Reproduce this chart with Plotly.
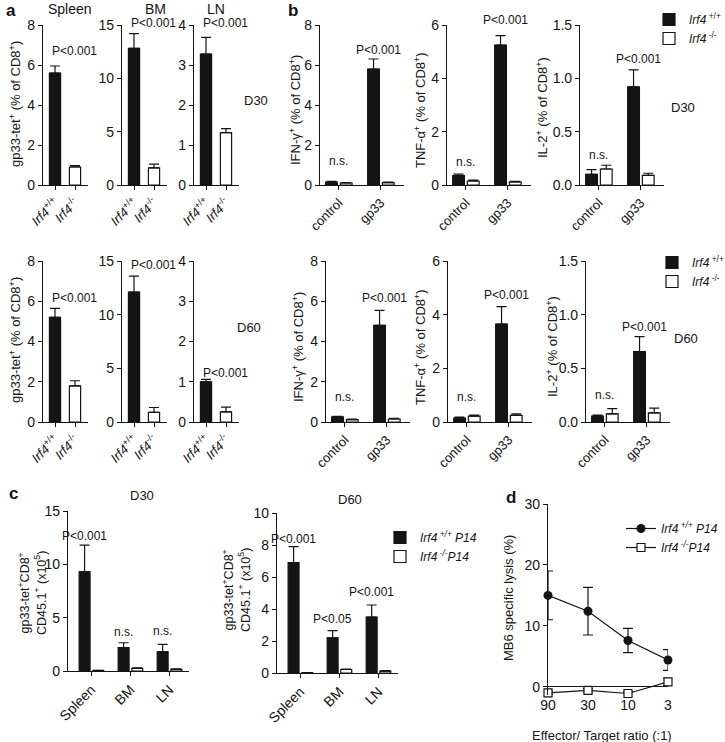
import plotly.graph_objects as go

W, H = 725, 742
FONT = "Liberation Sans, Arial, Helvetica, sans-serif"
INK = "#141414"

# ---------------- data ----------------
genotypes = ["<i>Irf4</i><sup>+/+</sup>", "<i>Irf4</i><sup>-/-</sup>"]
tissues = ["Spleen", "BM", "LN"]
stimuli = ["control", "gp33"]
ratios = ["90", "30", "10", "3"]

# panel a : gp33-tet+ (% of CD8+), values for [Irf4+/+, Irf4-/-]
a30_spleen = [5.6, 0.9]
a30_spleen_err = [0.35, 0.07]
a30_bm = [12.8, 1.6]
a30_bm_err = [1.4, 0.35]
a30_ln = [3.27, 1.31]
a30_ln_err = [0.42, 0.1]
a60_spleen = [5.2, 1.8]
a60_spleen_err = [0.45, 0.25]
a60_bm = [12.1, 0.9]
a60_bm_err = [1.5, 0.45]
a60_ln = [1.0, 0.25]
a60_ln_err = [0.06, 0.12]

# panel b : cytokine+ (% of CD8+), values for [control, gp33]
b30_ifn_wt = [0.15, 5.8]
b30_ifn_wt_err = [0.03, 0.5]
b30_ifn_ko = [0.1, 0.12]
b30_ifn_ko_err = [0.02, 0.02]
b30_tnf_wt = [0.35, 5.25]
b30_tnf_wt_err = [0.06, 0.35]
b30_tnf_ko = [0.15, 0.12]
b30_tnf_ko_err = [0.03, 0.02]
b30_il2_wt = [0.10, 0.92]
b30_il2_wt_err = [0.045, 0.16]
b30_il2_ko = [0.15, 0.09]
b30_il2_ko_err = [0.035, 0.02]
b60_ifn_wt = [0.25, 4.8]
b60_ifn_wt_err = [0.03, 0.75]
b60_ifn_ko = [0.12, 0.15]
b60_ifn_ko_err = [0.02, 0.03]
b60_tnf_wt = [0.15, 3.65]
b60_tnf_wt_err = [0.03, 0.65]
b60_tnf_ko = [0.22, 0.25]
b60_tnf_ko_err = [0.04, 0.05]
b60_il2_wt = [0.055, 0.655]
b60_il2_wt_err = [0.01, 0.14]
b60_il2_ko = [0.075, 0.085]
b60_il2_ko_err = [0.05, 0.045]

# panel c : gp33-tet+CD8+CD45.1+ (x10^5), values for [Spleen, BM, LN]
c30_wt = [9.3, 2.2, 1.8]
c30_wt_err = [2.5, 0.45, 0.7]
c30_ko = [0.05, 0.25, 0.15]
c30_ko_err = [0.02, 0.04, 0.04]
c60_wt = [6.9, 2.2, 3.5]
c60_wt_err = [1.0, 0.45, 0.75]
c60_ko = [0.02, 0.22, 0.12]
c60_ko_err = [0.01, 0.03, 0.03]

# panel d : MB6 specific lysis (%)
d_wt = [15.0, 12.4, 7.6, 4.4]
d_wt_err = [4.0, 3.9, 2.0, 1.7]
d_ko = [-1.0, -0.6, -1.1, 0.8]
d_ko_err = [0.3, 0.3, 0.3, 0.6]

WT_B = "<i>Irf4</i><sup> +/+</sup>"
KO_B = "<i>Irf4</i><sup> -/-</sup>"
WT_P14 = "<i>Irf4<sup> +/+</sup> P14</i>"
KO_P14 = "<i>Irf4<sup> -/-</sup>P14</i>"

# ---------------- figure scaffolding ----------------
layout = dict(
    width=W, height=H, autosize=False,
    margin=dict(l=0, r=0, t=0, b=0, pad=0, autoexpand=False),
    paper_bgcolor="white", plot_bgcolor="white",
    font=dict(family=FONT, color=INK, size=13),
    barmode="group", bargap=0.3, bargroupgap=0.2,
    showlegend=True,
)
traces = []
annotations = []
count = [0]

COMMON = dict(showline=True, linecolor=INK, linewidth=1.2, ticks="outside", ticklen=4,
              tickwidth=1.2, tickcolor=INK, showgrid=False, zeroline=False, fixedrange=True,
              automargin=False)


def make_axes(x0, x1, ytop, ybot, xrange, yrange, yticks, yfmt=None, xfont=13):
    count[0] += 1
    k = count[0]
    s = "" if k == 1 else str(k)
    xa = dict(COMMON, domain=[x0 / W, x1 / W], anchor="y" + s, range=xrange,
              type="category", tickangle=-45, tickfont=dict(size=xfont))
    ya = dict(COMMON, domain=[1 - ybot / H, 1 - ytop / H], anchor="x" + s, range=yrange,
              tickvals=yticks, tickfont=dict(size=14))
    if yfmt:
        ya["tickformat"] = yfmt
    layout["xaxis" + s] = xa
    layout["yaxis" + s] = ya
    return "x" + s, "y" + s


def err(arr):
    return dict(type="data", array=arr, arrayminus=[0] * len(arr), symmetric=False,
                color=INK, thickness=1.2, width=5)


def bars_single(xa, ya, cats, vals, errs):
    traces.append(go.Bar(x=cats, y=vals, xaxis=xa, yaxis=ya, showlegend=False,
                         marker=dict(color=[INK, "white"], line=dict(color=INK, width=1.2)),
                         error_y=err(errs)))


def bars_pair(xa, ya, cats, wt, wt_err, ko, ko_err, names, legend=None):
    for name, vals, errs, color in ((names[0], wt, wt_err, INK), (names[1], ko, ko_err, "white")):
        traces.append(go.Bar(x=cats, y=vals, name=name, xaxis=xa, yaxis=ya,
                             showlegend=legend is not None, legend=legend or "legend",
                             marker=dict(color=color, line=dict(color=INK, width=1.2)),
                             error_y=err(errs)))


def stat(xa, ya, x, ytop, text, yshift, xanchor="center", xshift=0):
    annotations.append(dict(xref=xa, yref=ya, x=x, y=ytop, text=text, showarrow=False,
                            xanchor=xanchor, yanchor="bottom", yshift=yshift, xshift=xshift,
                            font=dict(size=12, family=FONT, color=INK)))


def label(x, y, text, size=13, angle=0, bold=False):
    if bold:
        text = "<b>" + text + "</b>"
    annotations.append(dict(xref="paper", yref="paper", x=x / W, y=1 - y / H, text=text,
                            showarrow=False, textangle=angle, xanchor="center", yanchor="middle",
                            font=dict(size=size, family=FONT, color=INK)))


P = "P&lt;0.001"

# ---------------- panel a ----------------
A_RANGE = [-0.6, 1.65]
a_sets = [
    (25, 185, [(43, a30_spleen, a30_spleen_err, [0, 8], [0, 2, 4, 6, 8], 5.5),
               (122, a30_bm, a30_bm_err, [0, 15], [0, 5, 10, 15], 2),
               (194, a30_ln, a30_ln_err, [0, 4], [0, 1, 2, 3, 4], 5.5)]),
    (261, 422, [(43, a60_spleen, a60_spleen_err, [0, 8], [0, 2, 4, 6, 8], 1),
                (122, a60_bm, a60_bm_err, [0, 15], [0, 5, 10, 15], 2.5),
                (194, a60_ln, a60_ln_err, [0, 4], [0, 1, 2, 3, 4], -3)]),
]
for ytop, ybot, panels in a_sets:
    for x0, vals, errs, yr, yt, ys in panels:
        xa, ya = make_axes(x0, x0 + 45, ytop, ybot, A_RANGE, yr, yt)
        bars_single(xa, ya, genotypes, vals, errs)
        stat(xa, ya, -0.35, vals[0] + errs[0], P, ys, xanchor="left", xshift=2)

# ---------------- panel b ----------------
B_RANGE = [-0.45, 1.55]
b_sets = [
    (25, 185, "legend", [
        (320, b30_ifn_wt, b30_ifn_wt_err, b30_ifn_ko, b30_ifn_ko_err, [0, 8], [0, 2, 4, 6, 8], None, 0, 11),
        (447, b30_tnf_wt, b30_tnf_wt_err, b30_tnf_ko, b30_tnf_ko_err, [0, 6], [0, 2, 4, 6], None, 7, 3.5),
        (580, b30_il2_wt, b30_il2_wt_err, b30_il2_ko, b30_il2_ko_err, [0, 1.5], [0, 0.5, 1.0, 1.5], ".1f", 2, 1.5)]),
    (261, 422, "legend2", [
        (326, b60_ifn_wt, b60_ifn_wt_err, b60_ifn_ko, b60_ifn_ko_err, [0, 8], [0, 2, 4, 6, 8], None, 3, 10),
        (448, b60_tnf_wt, b60_tnf_wt_err, b60_tnf_ko, b60_tnf_ko_err, [0, 6], [0, 2, 4, 6], None, 3, 9),
        (586, b60_il2_wt, b60_il2_wt_err, b60_il2_ko, b60_il2_ko_err, [0, 1.5], [0, 0.5, 1.0, 1.5], ".1f", 1, 4.5)]),
]
for ytop, ybot, leg, panels in b_sets:
    for i, (x0, wt, wte, ko, koe, yr, yt, fmt, ysP, ysN) in enumerate(panels):
        xa, ya = make_axes(x0, x0 + 84, ytop, ybot, B_RANGE, yr, yt, yfmt=fmt)
        bars_pair(xa, ya, stimuli, wt, wte, ko, koe, (WT_B, KO_B), legend=leg if i == 0 else None)
        stat(xa, ya, 1, max(wt[1] + wte[1], ko[1] + koe[1]), P, ysP, xshift=-2)
        stat(xa, ya, 0, max(wt[0] + wte[0], ko[0] + koe[0]), "n.s.", ysN)

# ---------------- panel c ----------------
C_RANGE = [-0.6, 2.5]
xa, ya = make_axes(68, 189, 511, 671, C_RANGE, [0, 15], [0, 5, 10, 15], xfont=14)
bars_pair(xa, ya, tissues, c30_wt, c30_wt_err, c30_ko, c30_ko_err, (WT_P14, KO_P14))
for i, (txt, ys) in enumerate([(P, 0.5), ("n.s.", 2), ("n.s.", 4)]):
    stat(xa, ya, i - 0.175, c30_wt[i] + c30_wt_err[i], txt, ys)

xa, ya = make_axes(277, 398, 513, 673, C_RANGE, [0, 10], [0, 2, 4, 6, 8, 10], xfont=14)
bars_pair(xa, ya, tissues, c60_wt, c60_wt_err, c60_ko, c60_ko_err, (WT_P14, KO_P14), legend="legend3")
for i, (txt, ys) in enumerate([(P, -1), ("P&lt;0.05", 3), (P, 4.5)]):
    stat(xa, ya, i - 0.175, c60_wt[i] + c60_wt_err[i], txt, ys)

# ---------------- panel d ----------------
count[0] += 1
s = str(count[0])
layout["xaxis" + s] = dict(domain=[548 / W, 668 / W], anchor="y" + s, type="category",
                           range=[0, 3], showline=False, ticks="", showgrid=False,
                           zeroline=False, tickfont=dict(size=14), fixedrange=True,
                           automargin=False)
layout["yaxis" + s] = dict(COMMON, domain=[1 - 695 / H, 1 - 504 / H], anchor="x" + s,
                           range=[-1.35, 30], tickvals=[0, 10, 20, 30], tickfont=dict(size=14),
                           zeroline=True, zerolinecolor=INK, zerolinewidth=1.2)
sym_err = lambda a: dict(type="data", array=a, color=INK, thickness=1.2, width=5)
traces.append(go.Scatter(x=ratios, y=d_wt, mode="lines+markers", name=WT_P14, legend="legend4",
                         xaxis="x" + s, yaxis="y" + s, cliponaxis=False,
                         line=dict(color=INK, width=1.2),
                         marker=dict(symbol="circle", size=9, color=INK),
                         error_y=sym_err(d_wt_err)))
traces.append(go.Scatter(x=ratios, y=d_ko, mode="lines+markers", name=KO_P14, legend="legend4",
                         xaxis="x" + s, yaxis="y" + s, cliponaxis=False,
                         line=dict(color=INK, width=1.2),
                         marker=dict(symbol="square", size=8, color="white",
                                     line=dict(color=INK, width=1.2)),
                         error_y=sym_err(d_ko_err)))

# ---------------- legends ----------------
def leg(x, y):
    return dict(x=x / W, y=1 - y / H, xanchor="left", yanchor="top", bgcolor="rgba(0,0,0,0)",
                font=dict(size=12, family=FONT, color=INK), tracegroupgap=0, itemclick=False,
                itemdoubleclick=False)

layout["legend"] = leg(649, 5)
layout["legend2"] = leg(652, 248)
layout["legend3"] = leg(380, 523)
layout["legend4"] = leg(621, 514)

# ---------------- text ----------------
label(11, 11, "a", 17, bold=True)
label(293, 11, "b", 17, bold=True)
label(13, 494, "c", 17, bold=True)
label(511, 497, "d", 17, bold=True)

label(70, 9, "Spleen", 14)
label(155, 9, "BM", 14)
label(216, 9, "LN", 14)
label(142, 495, "D30", 13)
label(350, 499, "D60", 13)

label(256, 100, "D30", 13)
label(249, 327, "D60", 13)
label(683, 107, "D30", 13)
label(686, 338, "D60", 13)

YA = "gp33-tet<sup>+</sup> (% of CD8<sup>+</sup>)"
label(15, 104, YA, 13, angle=-90)
label(15, 340, YA, 13, angle=-90)
label(295, 110, "IFN-γ<sup>+</sup> (% of CD8<sup>+</sup>)", 13, angle=-90)
label(420, 110, "TNF-α<sup>+</sup> (% of CD8<sup>+</sup>)", 13, angle=-90)
label(542, 108, "IL-2<sup>+</sup> (% of CD8<sup>+</sup>)", 13, angle=-90)
label(298, 347, "IFN-γ<sup>+</sup> (% of CD8<sup>+</sup>)", 13, angle=-90)
label(420, 347, "TNF-α<sup>+</sup> (% of CD8<sup>+</sup>)", 13, angle=-90)
label(552, 347, "IL-2<sup>+</sup> (% of CD8<sup>+</sup>)", 13, angle=-90)
YC = "gp33-tet<sup>+</sup>CD8<sup>+</sup><br>CD45.1<sup>+</sup> (x10<sup>5</sup>)"
label(32, 593, YC, 12.5, angle=-90)
label(236, 590, YC, 12.5, angle=-90)
label(508, 598, "MB6 specific lysis (%)", 13, angle=-90)
label(602, 735, "Effector/ Target ratio (:1)", 13)

layout["annotations"] = annotations
fig = go.Figure(data=traces, layout=layout)
fig.write_html("out.html", config={"displayModeBar": False},
               post_script="document.body.style.margin='0';document.body.style.overflow='hidden';")
